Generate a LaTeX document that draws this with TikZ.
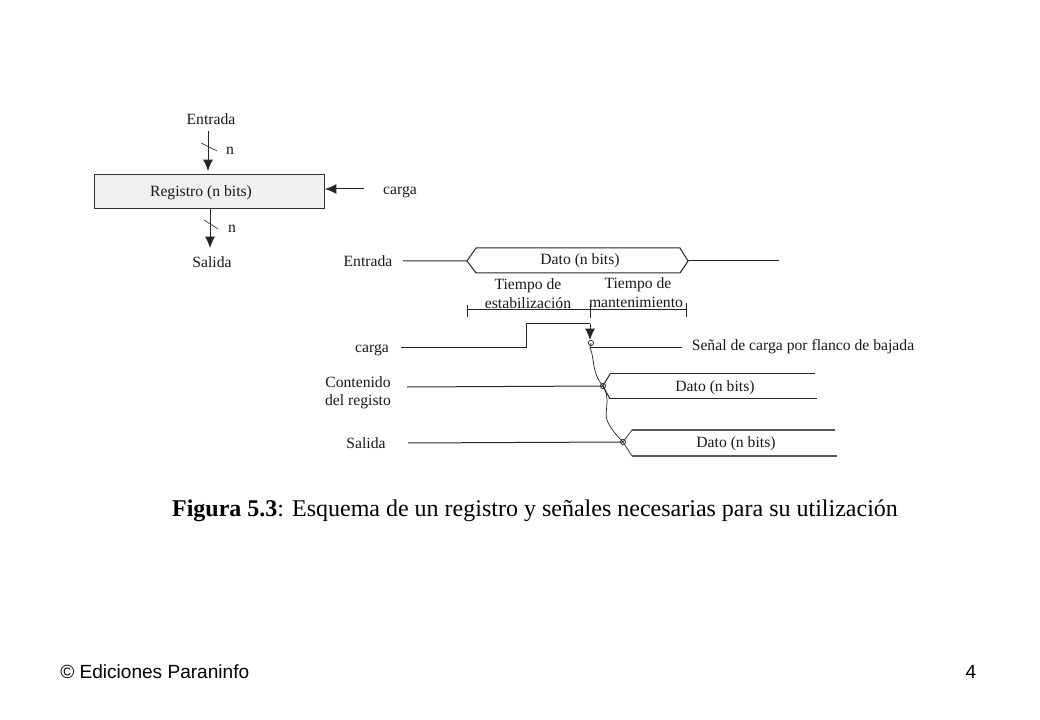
\documentclass[tikz,border=0pt]{standalone}
\usepackage{fontspec}
\setmainfont{Liberation Serif}
\newfontfamily\footfont{Liberation Sans}
\usetikzlibrary{calc}
\usetikzlibrary{arrows.meta}

\tikzset{
	lab/.style={inner sep=0pt, yshift=-0.75pt, font=\fontsize{11.75}{13}\selectfont, text=black!90},
	foot/.style={inner sep=0pt, font=\footfont\fontsize{14.3}{16}\selectfont},
	sig/.style={line width=0.75pt, black!85},
	arr/.style={sig, -{Latex[length=8.5pt,width=7.5pt]}},
	tick/.style={line width=0.5pt, black!80},
	joint/.style={line width=0.55pt, black!85}
}

\begin{document}
\begin{tikzpicture}[x=0.75pt, y=-0.75pt]

\useasboundingbox (0,0) rectangle (1040,720);

% Define coordinates.

	%register block
	\coordinate (regA) at (94,174);
	\coordinate (regB) at (324,208);
	\coordinate (inTail) at (208,131);
	\coordinate (inHead) at (208,171);
	\coordinate (outTail) at (210,208);
	\coordinate (outHead) at (210,248);
	\coordinate (cargaTail) at (364,189);
	\coordinate (cargaHead) at (325,189);

	%entrada signal
	\coordinate (enA) at (403,261);
	\coordinate (enB) at (467,261);
	\coordinate (enC) at (476,248);
	\coordinate (enD) at (680,248);
	\coordinate (enE) at (688,261);
	\coordinate (enF) at (680,273);
	\coordinate (enG) at (476,273);
	\coordinate (enH) at (779,261);

	%time bar
	\coordinate (barL) at (467,310);
	\coordinate (barM) at (590,310);
	\coordinate (barR) at (686,310);

	%carga signal
	\coordinate (caA) at (401,348);
	\coordinate (caB) at (526,348);
	\coordinate (caC) at (526,324);
	\coordinate (caD) at (590,324);
	\coordinate (caE) at (590,340);
	\coordinate (caF) at (590,348);
	\coordinate (caG) at (682,348);

	%edge points
	\coordinate (E1) at (591,343);
	\coordinate (E2) at (603,386);
	\coordinate (E3) at (623,442);

	%contenido signal
	\coordinate (coA) at (407,387);
	\coordinate (coB) at (610,374);
	\coordinate (coC) at (815,374);
	\coordinate (coD) at (610,399);
	\coordinate (coE) at (817,399);

	%salida signal
	\coordinate (saA) at (408,443);
	\coordinate (saB) at (632,430);
	\coordinate (saC) at (835,430);
	\coordinate (saD) at (632,456);
	\coordinate (saE) at (837,456);

% Colour in.

	\draw[line width=0.7pt, black!80, fill=black!6] (regA) rectangle (regB);

% Draw labels.

	\node[lab] (regLabel) at (201,192) {Registro (n bits)};
	\node[lab] (inLabel) at (211,118) {Entrada};
	\node[lab] (inN) at (230,150) {n};
	\node[lab] (outN) at (232,228) {n};
	\node[lab] (outLabel) at (212,261) {Salida};
	\node[lab] (cargaLabel) at (400,191) {carga};

	\node[lab] (enLabel) at (368,260) {Entrada};
	\node[lab] (caLabel) at (372,349) {carga};
	\node[lab, align=center] (coLabel) at (358,391.5) {Contenido\\[0.5pt]del registo};
	\node[lab] (saLabel) at (366,442) {Salida};

	\node[lab] (enDato) at (580,260) {Dato (n bits)};
	\node[lab] (coDato) at (715,387) {Dato (n bits)};
	\node[lab] (saDato) at (736,443) {Dato (n bits)};
	\node[lab] (edgeLabel) at (803,346) {Señal de carga por flanco de bajada};

	\node[lab] (estA) at (528,285) {Tiempo de};
	\node[lab] (estB) at (528,302) {estabilización};
	\node[lab] (manA) at (638,284) {Tiempo de};
	\node[lab] (manB) at (636,301) {mantenimiento};

	\node[inner sep=0pt, font=\fontsize{18}{20}\selectfont] (caption) at (535,511) {\textbf{Figura 5.3}: Esquema de un registro y señales necesarias para su utilización};
	\node[foot, anchor=west] (footL) at (60,672) {© Ediciones Paraninfo};
	\node[foot] (footR) at (971,672) {4};

% Draw arrows.

	\draw[arr] (inTail) -- (inHead);
	\draw[arr] (outTail) -- (outHead);
	\draw[arr] (cargaTail) -- (cargaHead);
	\draw[tick] (201,143) -- (217,151);
	\draw[tick] (204,220) -- (218,229);

% Draw signals.

	\draw[sig] (enA) -- (enB) -- (enC) -- (enD) -- (enE) -- (enF) -- (enG) -- (enB);
	\draw[sig] (enE) -- (enH);

	\draw[sig] (barL) -- (barR);
	\draw[sig] (467,305) -- (467,317);
	\draw[sig] (barR) ++(0,-7) -- ++(0,14);
	\draw[sig] (590,304) -- (590,318);

	\draw[sig] (caA) -- (caB) -- (caC) -- (caD);
	\draw[arr] (caD) -- (caE);
	\draw[sig] (caF) -- (caG);

	\draw[sig] (coA) -- (E2);
	\draw[sig] (coB) -- (E2) -- (coD);
	\draw[sig] (coB) -- (coC);
	\draw[sig] (coD) -- (coE);

	\draw[sig] (saA) -- (E3);
	\draw[sig, black!65] (saB) -- (E3) -- (saD);
	\draw[sig, black!65, line width=0.9pt] (saB) -- (saC);
	\draw[sig, black!65, line width=0.9pt] (saD) -- (saE);

% Draw edge curves.

	\draw[joint] (E1) -- (caF) .. controls (595,358) and (591,372) .. (E2);
	\draw[joint] (E2) .. controls (611,398) and (604,412) .. (607,420) .. controls (610,428) and (617,436) .. (E3);

	\draw[joint] (E1) circle (2.6);
	\draw[joint] (E2) circle (2.6);
	\draw[joint] (E3) circle (2.6);

\end{tikzpicture}
\end{document}
